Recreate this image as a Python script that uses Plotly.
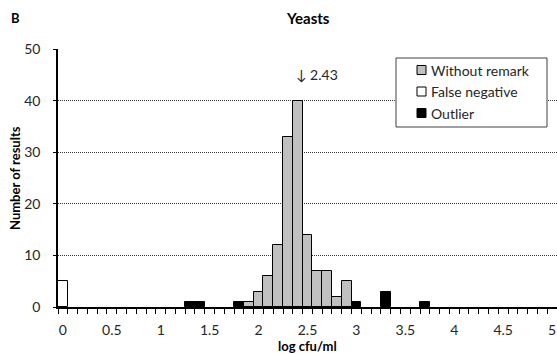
import plotly.graph_objects as go

# Histogram bins (log cfu/ml, bin width 0.1) and counts per result category
without_remark_bins = [1.9, 2.0, 2.1, 2.2, 2.3, 2.4, 2.5, 2.6, 2.7, 2.8, 2.9]
without_remark_counts = [1, 3, 6, 12, 33, 40, 14, 7, 7, 2, 5]

false_negative_bins = [0.0]
false_negative_counts = [5]

outlier_bins = [1.3, 1.4, 1.8, 3.0, 3.3, 3.7]
outlier_counts = [1, 1, 1, 1, 3, 1]

x_tick_values = [0, 0.5, 1, 1.5, 2, 2.5, 3, 3.5, 4, 4.5, 5]
x_tick_labels = ["0", "0.5", "1", "1.5", "2", "2.5", "3", "3.5", "4", "4.5", "5"]
y_tick_values = [0, 10, 20, 30, 40, 50]

assigned_value = 2.43
bin_width = 0.1

FONT = "Lato, Open Sans, sans-serif"
TXT = "#262626"

# Plot area geometry in pixels
W, H = 557, 354
ML, MR, MT, MB = 58, 0, 49, 47
PW, PH = W - ML - MR, H - MT - MB


def px(xp):
    return (xp - ML) / PW


def py(yp):
    return (H - MB - yp) / PH


fig = go.Figure()

series = [
    ("Without remark", without_remark_bins, without_remark_counts, "#c0c0c0"),
    ("False negative", false_negative_bins, false_negative_counts, "#ffffff"),
    ("Outlier", outlier_bins, outlier_counts, "#000000"),
]
for name, bins, counts, color in series:
    fig.add_trace(go.Bar(
        x=bins, y=counts, width=bin_width, name=name, showlegend=False,
        marker=dict(color=color, line=dict(color="#000000", width=1)),
    ))

fig.update_layout(
    width=W, height=H,
    margin=dict(l=ML, r=MR, t=MT, b=MB),
    paper_bgcolor="white", plot_bgcolor="white",
    barmode="overlay", bargap=0,
    font=dict(family=FONT, size=14, color=TXT),
    xaxis=dict(
        range=[-bin_width / 2, 5 + bin_width / 2],
        tickmode="array", tickvals=x_tick_values, ticktext=x_tick_labels,
        ticks="", ticklabelstandoff=9,
        showline=True, linecolor="#000000", linewidth=1.5,
        showgrid=False, zeroline=False,
        minor=dict(tickmode="linear", tick0=-bin_width / 2, dtick=bin_width,
                   ticks="outside", ticklen=5, tickcolor="#000000", tickwidth=1,
                   showgrid=False),
    ),
    yaxis=dict(
        range=[0, 50],
        tickmode="array", tickvals=y_tick_values,
        ticks="outside", ticklen=3, tickcolor="#000000",
        ticklabelstandoff=10,
        showline=True, linecolor="#000000", linewidth=1.5,
        showgrid=True, gridcolor="#3a3a3a", griddash="1px,1px", gridwidth=1,
        zeroline=False,
    ),
)

# Legend box with a swatch and label per series
box_x0, box_x1, box_y0, box_y1 = 396, 547, 58, 127
fig.add_shape(type="rect", xref="paper", yref="paper",
              x0=px(box_x0), x1=px(box_x1), y0=py(box_y1), y1=py(box_y0),
              line=dict(color="#404040", width=1), fillcolor="white", layer="above")
row_centers = [70, 91.5, 113]
for (name, _, _, color), yc in zip(series, row_centers):
    fig.add_shape(type="rect", xref="paper", yref="paper",
                  x0=px(417), x1=px(426), y0=py(yc + 4.5), y1=py(yc - 4.5),
                  line=dict(color="#000000", width=1), fillcolor=color, layer="above")
    fig.add_annotation(text=name, xref="paper", yref="paper",
                       x=px(429), y=py(yc), xanchor="left", yanchor="middle",
                       showarrow=False, font=dict(size=14, color=TXT))

# Panel letter, title and axis titles
fig.add_annotation(text="<b>B</b>", xref="paper", yref="paper",
                   x=px(15), y=py(18), xanchor="center", yanchor="middle",
                   showarrow=False, font=dict(size=13, color="#000000"))
fig.add_annotation(text="<b>Yeasts</b>", xref="paper", yref="paper",
                   x=0.5, y=py(18), xanchor="center", yanchor="middle",
                   showarrow=False, font=dict(size=15, color="#000000"))
fig.add_annotation(text="<b>Number of results</b>", xref="paper", yref="paper",
                   x=px(15), y=0.5, xanchor="center", yanchor="middle",
                   textangle=-90, showarrow=False, font=dict(size=13, color="#000000"))
fig.add_annotation(text="<b>log cfu/ml</b>", xref="paper", yref="paper",
                   x=0.5, y=py(346), xanchor="center", yanchor="middle",
                   showarrow=False, font=dict(size=13, color="#000000"))

# Assigned value marker
fig.add_annotation(text="↓ " + f"{assigned_value:.2f}", x=assigned_value, y=45,
                   xref="x", yref="y", xanchor="left", yanchor="middle",
                   xshift=-7, showarrow=False, font=dict(size=14, color=TXT))

fig.write_html("out.html")
